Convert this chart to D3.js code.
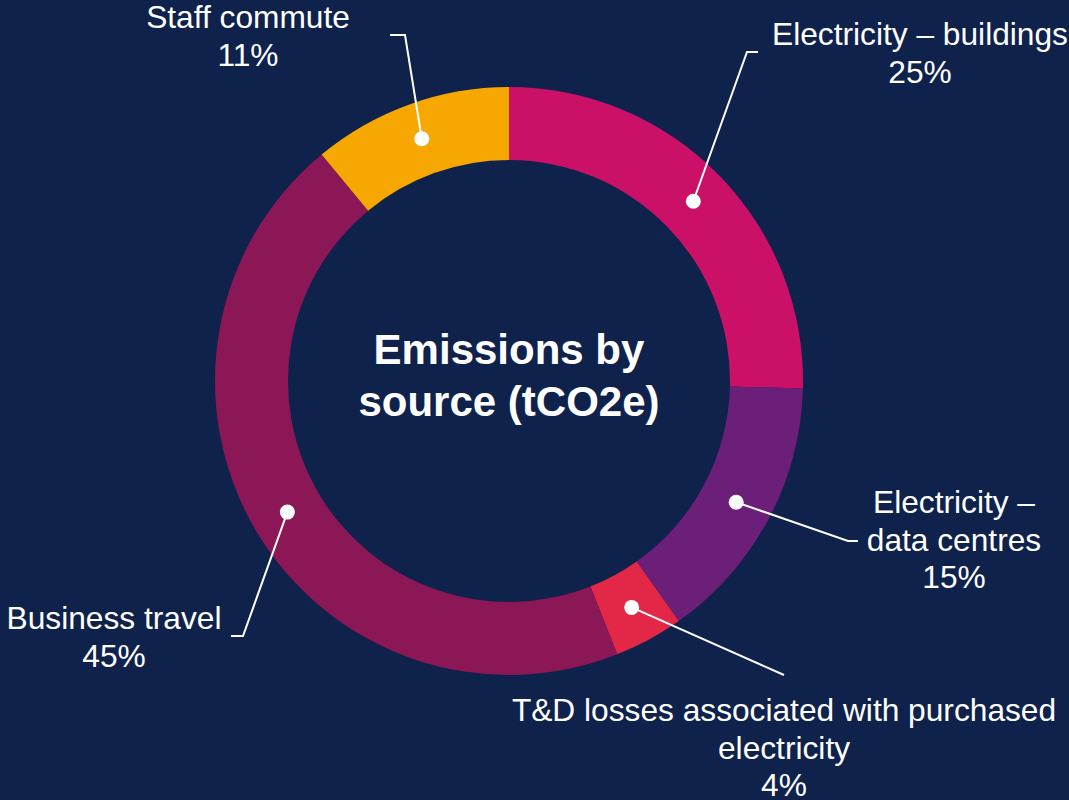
<!DOCTYPE html>
<html lang="en">
<head>
<meta charset="UTF-8">
<title>Emissions by source</title>
<script src="https://cdnjs.cloudflare.com/ajax/libs/d3/7.8.5/d3.min.js"></script>
<style>
    body { margin: 0; background: #0f224c; }
    svg { display: block; font-family: "Liberation Sans", Arial, sans-serif; }
    .lbl { fill: #fff; font-size: 31.7px; text-anchor: middle; }
    .title { fill: #fff; font-size: 42px; font-weight: bold; text-anchor: middle; }
</style>
</head>
<body>
<div id="chart"></div>
<script>
    // data
    const categories = ["Electricity – buildings", "Electricity – data centres", "T&D losses associated with purchased electricity", "Business travel", "Staff commute"];
    const values = [25.4, 14.8, 3.8, 45.0, 11.0];
    const colors = ["#cb1167", "#6c1f78", "#e22747", "#8c1756", "#f7a800"];

    // label text lines for each slice (percent appended below)
    const labelLines = [
        ["Electricity – buildings"],
        ["Electricity –", "data centres"],
        ["T&D losses associated with purchased", "electricity"],
        ["Business travel"],
        ["Staff commute"]
    ];

    // label layout: text centre / first baseline, and leader elbow points
    const labelLayout = [
        { x: 920, y: 45, path: [[747, 52], [758, 52]] },
        { x: 954, y: 513, path: [[848, 541], [858, 541]] },
        { x: 784, y: 721, path: [[784, 675]] },
        { x: 114, y: 629, path: [[243, 636], [231, 636]] },
        { x: 248, y: 28, path: [[405, 35], [390, 35]] }
    ];

    const W = 1069, H = 800;
    const cx = 509, cy = 381;
    const outerR = 294, innerR = 221;
    const lineH = 37.5;

    const svg = d3.select("#chart").append("svg")
        .attr("width", W).attr("height", H);

    svg.append("rect").attr("width", W).attr("height", H).attr("fill", "#0f224c");

    const g = svg.append("g").attr("transform", `translate(${cx},${cy})`);

    const pie = d3.pie().sort(null).value(d => d);
    const arcs = pie(values);
    const arc = d3.arc().innerRadius(innerR).outerRadius(outerR);

    g.selectAll("path.slice")
        .data(arcs)
        .enter().append("path")
        .attr("class", "slice")
        .attr("d", arc)
        .attr("fill", (d, i) => colors[i]);

    // leader lines
    arcs.forEach((d, i) => {
        const c = arc.centroid(d);
        const pts = [[cx + c[0], cy + c[1]]].concat(labelLayout[i].path);
        svg.append("path")
            .attr("d", d3.line()(pts))
            .attr("fill", "none")
            .attr("stroke", "#fff")
            .attr("stroke-width", 2);
        svg.append("circle")
            .attr("cx", cx + c[0]).attr("cy", cy + c[1])
            .attr("r", 7.5).attr("fill", "#fff");
    });

    // labels
    labelLines.forEach((lines, i) => {
        const L = labelLayout[i];
        const t = svg.append("text").attr("class", "lbl");
        lines.concat([Math.round(values[i]) + "%"]).forEach((s, j) => {
            t.append("tspan").attr("x", L.x).attr("y", L.y + j * lineH).text(s);
        });
    });

    // centre title
    const title = svg.append("text").attr("class", "title");
    ["Emissions by", "source (tCO2e)"].forEach((s, j) => {
        title.append("tspan").attr("x", cx).attr("y", 364 + j * 52).text(s);
    });
</script>
</body>
</html>
